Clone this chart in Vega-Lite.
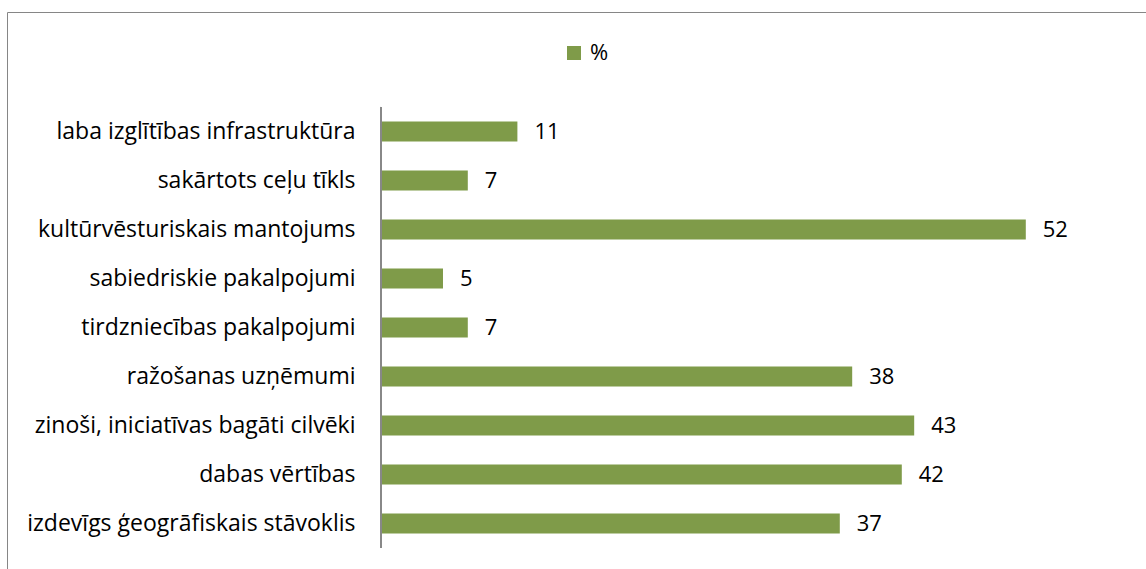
{
  "$schema": "https://vega.github.io/schema/vega-lite/v6.json",
  "width": 1139,
  "height": 557,
  "autosize": {"type": "none"},
  "padding": {"left": 7, "top": 12, "right": 0, "bottom": 0},
  "background": "white",
  "config": {"view": {"stroke": null}, "font": "Open Sans"},
  "data": {
    "values": [
      {"category": "laba izglītības infrastruktūra", "value": 11},
      {"category": "sakārtots ceļu tīkls", "value": 7},
      {"category": "kultūrvēsturiskais mantojums", "value": 52},
      {"category": "sabiedriskie pakalpojumi", "value": 5},
      {"category": "tirdzniecības pakalpojumi", "value": 7},
      {"category": "ražošanas uzņēmumi", "value": 38},
      {"category": "zinoši, iniciatīvas bagāti cilvēki", "value": 43},
      {"category": "dabas vērtības", "value": 42},
      {"category": "izdevīgs ģeogrāfiskais stāvoklis", "value": 37}
    ]
  },
  "layer": [
    {
      "layer": [
        {
          "mark": {"type": "bar"},
          "encoding": {
            "y": {
              "field": "category", "type": "nominal", "sort": null,
              "scale": {"range": [95, 536], "paddingInner": 0.593, "paddingOuter": 0.2965},
              "axis": {"orient": "left", "offset": -374, "domain": false, "ticks": false, "tickSize": 0, "labelPadding": 26, "labelFontSize": 23, "labelColor": "#000000", "labelFont": "Open Sans", "labelLimit": 0, "title": null, "grid": false}
            },
            "x": {
              "field": "value", "type": "quantitative",
              "scale": {"domain": [-30.161, 61.694], "nice": false, "zero": false},
              "axis": {"orient": "top", "labels": false, "ticks": false, "grid": false, "domainColor": "#868686", "title": null}
            },
            "color": {
              "datum": "%", "type": "nominal",
              "scale": {"range": ["#7F9B49"]},
              "legend": {"orient": "none", "legendX": 556, "legendY": 30, "title": null, "symbolType": "square", "symbolSize": 196, "symbolStrokeWidth": 0, "labelFontSize": 22, "labelFont": "Open Sans", "labelColor": "#000000", "labelOffset": 5}
            }
          }
        },
        {
          "mark": {"type": "text", "align": "left", "baseline": "middle", "dx": 17, "fontSize": 22, "font": "Open Sans", "color": "#000000"},
          "encoding": {
            "y": {"field": "category", "type": "nominal", "sort": null},
            "x": {"field": "value", "type": "quantitative"},
            "text": {"field": "value", "type": "quantitative"}
          }
        }
      ]
    },
    {
      "mark": {"type": "rule", "color": "#888888", "strokeWidth": 1},
      "encoding": {
        "x": {"datum": 0, "type": "quantitative"},
        "y": {
          "datum": 0, "type": "quantitative",
          "scale": {"domain": [-0.0477, 1.2154], "nice": false, "zero": false},
          "axis": {"orient": "left", "labels": false, "ticks": false, "grid": false, "domainColor": "#868686", "title": null}
        },
        "y2": {"datum": 1}
      }
    }
  ],
  "resolve": {"scale": {"y": "independent"}, "axis": {"y": "independent"}}
}
